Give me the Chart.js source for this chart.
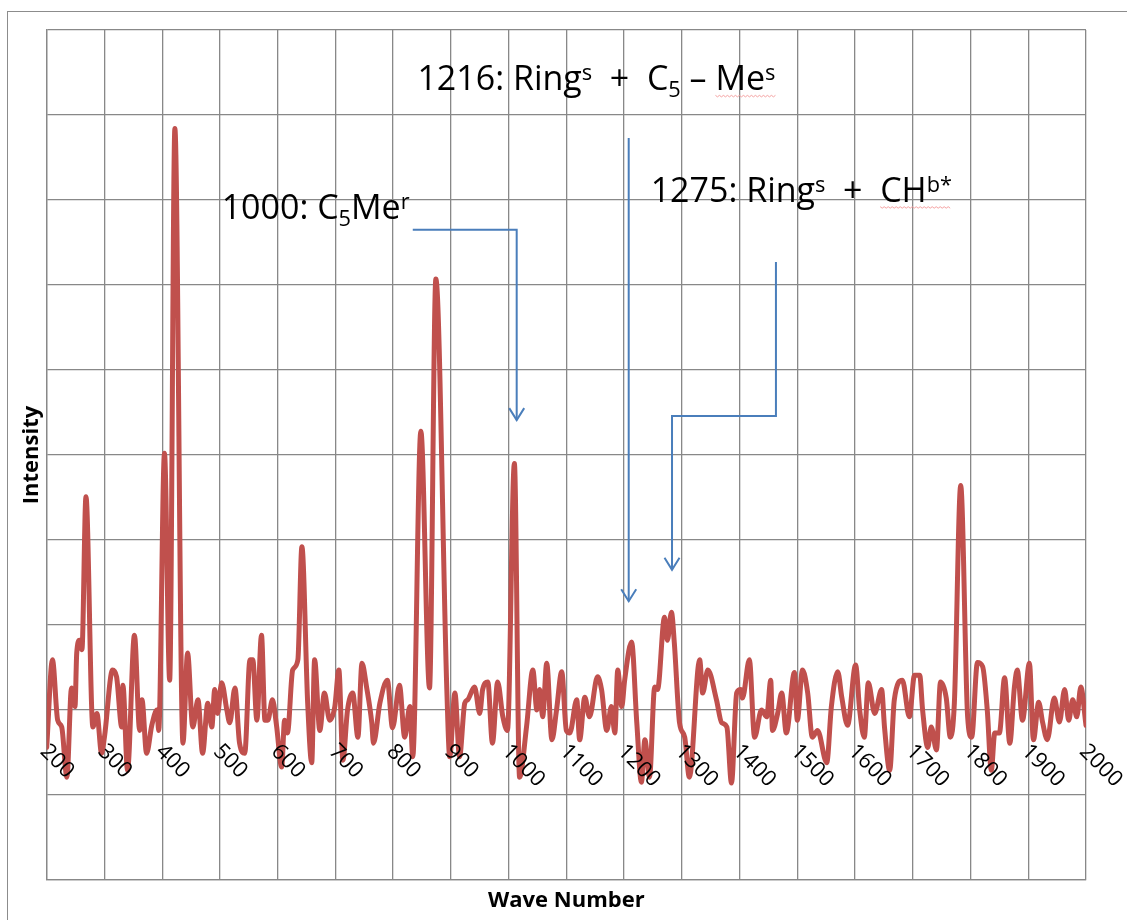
<!DOCTYPE html>
<html>
<head>
<meta charset="utf-8">
<script src="https://cdn.jsdelivr.net/npm/chart.js@4"></script>
<style>
  body { margin: 0; background: #fff; overflow: hidden; }
</style>
</head>
<body>
<canvas id="myChart" width="1127" height="920"></canvas>
<script>
// wave numbers, with the matching intensities
const waveNumbers = [200, 210, 219, 226, 235, 243, 249, 252, 257, 261, 268, 280, 287, 295, 300, 314, 321, 330, 332, 340,
  352, 361, 365, 373, 382, 391, 394, 404, 413, 422, 436, 444, 453, 462, 470, 479, 486, 491, 496, 503,
  512, 517, 526, 534, 543, 552, 557, 564, 572, 578, 583, 591, 598, 607, 612, 617, 626, 635, 642, 652,
  659, 664, 673, 681, 690, 699, 706, 713, 721, 730, 739, 746, 754, 763, 766, 777, 790, 799, 811, 820,
  829, 834, 848, 863, 874, 893, 898, 907, 915, 924, 929, 941, 950, 955, 964, 972, 981, 990, 998, 1010,
  1019, 1031, 1042, 1049, 1054, 1059, 1066, 1075, 1083, 1092, 1100, 1106, 1118, 1123, 1132, 1140, 1154, 1161, 1170, 1178,
  1184, 1189, 1196, 1201, 1213, 1222, 1230, 1236, 1244, 1253, 1258, 1270, 1275, 1282, 1287, 1296, 1305, 1313, 1331, 1336,
  1345, 1360, 1369, 1378, 1386, 1395, 1402, 1405, 1417, 1426, 1438, 1447, 1454, 1457, 1466, 1473, 1481, 1495, 1500, 1509,
  1518, 1526, 1535, 1551, 1559, 1570, 1577, 1587, 1601, 1608, 1616, 1623, 1634, 1646, 1651, 1660, 1668, 1682, 1694, 1703,
  1712, 1717, 1726, 1732, 1741, 1748, 1758, 1765, 1772, 1783, 1795, 1802, 1812, 1821, 1829, 1836, 1842, 1850, 1859, 1868,
  1876, 1881, 1890, 1902, 1909, 1918, 1925, 1933, 1945, 1954, 1963, 1970, 1977, 1984, 1991, 2000];
const intensities = [-0.44, 0.59, -0.12, -0.20, -0.79, 0.26, 0.04, 0.67, 0.82, 0.71, 2.51, -0.20, -0.04, -0.51, -0.32, 0.47, 0.39, -0.20, 0.29, -0.71,
  0.88, -0.24, 0.12, -0.51, -0.18, 0.00, -0.24, 3.02, 0.35, 6.84, -0.39, 0.67, -0.20, 0.12, -0.51, 0.08, -0.20, 0.24, -0.04, 0.32,
  0.00, -0.15, 0.26, -0.39, -0.51, 0.59, 0.59, -0.12, 0.88, -0.12, -0.12, 0.12, -0.18, -0.67, -0.12, -0.27, 0.47, 0.59, 1.92, 0.08,
  -0.62, 0.59, -0.24, 0.20, -0.12, 0.04, 0.47, -0.59, 0.00, 0.20, -0.32, 0.55, 0.27, -0.15, -0.39, 0.08, 0.35, -0.21, 0.29, -0.32,
  0.04, -0.55, 3.28, 0.26, 5.07, 0.24, -0.55, 0.20, -0.55, 0.08, 0.12, 0.27, -0.04, 0.24, 0.33, -0.39, 0.33, -0.08, -0.24, 2.90,
  -0.79, -0.20, 0.47, 0.00, 0.24, -0.08, 0.55, -0.35, 0.00, 0.45, -0.24, -0.27, 0.12, -0.35, 0.15, -0.08, 0.39, 0.24, -0.24, 0.04,
  -0.27, 0.47, 0.04, 0.35, 0.80, -0.15, -0.85, -0.35, -0.79, 0.27, 0.24, 1.09, 0.82, 1.15, 0.79, -0.15, -0.32, -0.79, 0.59, 0.20,
  0.47, 0.12, -0.15, -0.20, -0.86, 0.20, 0.24, 0.14, 0.59, -0.32, 0.00, -0.08, 0.35, -0.24, -0.04, 0.20, -0.27, 0.44, -0.12, 0.47,
  0.20, -0.32, -0.24, -0.62, 0.04, 0.45, 0.15, -0.18, 0.53, 0.00, -0.32, 0.32, -0.04, 0.24, -0.20, -0.71, 0.12, 0.35, -0.08, 0.41,
  0.41, 0.00, -0.44, -0.20, -0.47, 0.33, 0.14, -0.32, 0.08, 2.64, -0.08, -0.32, 0.56, 0.51, 0.00, -0.71, -0.27, -0.27, 0.38, -0.39,
  0.27, 0.47, -0.12, 0.55, -0.35, 0.09, -0.15, -0.35, 0.14, -0.14, 0.24, -0.12, 0.12, -0.08, 0.27, -0.18];

const tickLabels = ["200", "300", "400", "500", "600", "700", "800", "900", "1000", "1100",
  "1200", "1300", "1400", "1500", "1600", "1700", "1800", "1900", "2000"];

// peak labels: [text, style] pieces, anchored at (wave number, intensity) of the text's left baseline
const noteTexts = [
  { x: 842, y: 7.29, parts: [["1216: Ring"], ["s", "sup"], ["  +  C"], ["5", "sub"], [" – "], ["Me", "", 1], ["s", "sup", 1]] },
  { x: 503, y: 5.78, parts: [["1000: C"], ["5", "sub"], ["Me"], ["r", "sup"]] },
  { x: 1246, y: 5.98, parts: [["1275: Ring"], ["s", "sup"], ["  +  "], ["CH", "", 1], ["b*", "sup", 1]] }
];
// connector lines, last point gets the arrow head
const noteArrows = [
  [[834, 5.65], [1014, 5.65], [1014, 3.41]],
  [[1208, 6.73], [1208, 1.28]],
  [[1463, 5.27], [1463, 3.46], [1283, 3.46], [1283, 1.65]]
];

const gridColor = "#888888";
const fontName = "'Open Sans', sans-serif";

function drawParts(ctx, parts, x, y, size) {
  let cx = x;
  let wavyStart = null;
  parts.forEach(p => {
    const mode = p[1] || "";
    let s = size, dy = 0;
    if (mode === "sup") { s = size * 0.64; dy = -size * 0.3; }
    if (mode === "sub") { s = size * 0.64; dy = size * 0.2; }
    ctx.font = s + "px " + fontName;
    const w = ctx.measureText(p[0]).width;
    ctx.fillStyle = "#000";
    ctx.fillText(p[0], cx, y + dy);
    if (p[2] && wavyStart === null) wavyStart = cx;
    cx += w;
  });
  if (wavyStart !== null) {
    // spell-check squiggle
    ctx.strokeStyle = "#f4a0a0";
    ctx.lineWidth = 1;
    ctx.beginPath();
    for (let wx = wavyStart, k = 0; wx <= cx; wx += 2, k++) {
      const wy = y + 5 + (k % 2 ? 1.5 : 0);
      if (k === 0) ctx.moveTo(wx, wy); else ctx.lineTo(wx, wy);
    }
    ctx.stroke();
  }
}

const notesPlugin = {
  id: "notes",
  beforeDraw(chart) {
    const ctx = chart.ctx;
    ctx.save();
    ctx.strokeStyle = "#8c8c8c";
    ctx.lineWidth = 1;
    ctx.strokeRect(7.5, 11.5, 1400, 1400);
    ctx.restore();
  },
  afterDatasetsDraw(chart) {
    const ctx = chart.ctx;
    const xs = chart.scales.x;
    const ys = chart.scales.y;
    ctx.save();

    // tick labels, turned 45 degrees down to the right
    ctx.fillStyle = "#000";
    ctx.font = "22px " + fontName;
    ctx.textAlign = "left";
    ctx.textBaseline = "middle";
    const zeroY = ys.getPixelForValue(0);
    tickLabels.forEach(lbl => {
      const px = xs.getPixelForValue(Number(lbl));
      ctx.save();
      ctx.translate(px - 3, zeroY + 38);
      ctx.rotate(Math.PI / 4);
      ctx.fillText(lbl, 0, 0);
      ctx.restore();
    });

    // connectors
    ctx.strokeStyle = "#4a7ebb";
    ctx.lineWidth = 2;
    ctx.lineJoin = "miter";
    noteArrows.forEach(pts => {
      ctx.beginPath();
      pts.forEach((p, i) => {
        const px = xs.getPixelForValue(p[0]);
        const py = ys.getPixelForValue(p[1]);
        if (i === 0) ctx.moveTo(px, py); else ctx.lineTo(px, py);
      });
      ctx.stroke();
      const tip = pts[pts.length - 1];
      const tx = xs.getPixelForValue(tip[0]);
      const ty = ys.getPixelForValue(tip[1]);
      ctx.beginPath();
      ctx.moveTo(tx - 7.5, ty - 12);
      ctx.lineTo(tx, ty);
      ctx.lineTo(tx + 7.5, ty - 12);
      ctx.stroke();
    });

    ctx.textAlign = "left";
    ctx.textBaseline = "alphabetic";
    noteTexts.forEach(n => {
      drawParts(ctx, n.parts, xs.getPixelForValue(n.x), ys.getPixelForValue(n.y), 34);
    });
    ctx.restore();
  }
};

const ctx = document.getElementById("myChart").getContext("2d");
new Chart(ctx, {
  type: "line",
  data: {
    datasets: [{
      label: "Intensity",
      data: waveNumbers.map((w, i) => ({ x: w, y: intensities[i] })),
      borderColor: "#c0504d",
      borderWidth: 5,
      pointRadius: 0,
      fill: false,
      cubicInterpolationMode: "monotone",
      borderJoinStyle: "round",
      borderCapStyle: "round"
    }]
  },
  options: {
    responsive: false,
    animation: false,
    layout: { padding: { left: 18.8, right: 41, top: 30, bottom: 5.8 } },
    plugins: {
      legend: { display: false },
      tooltip: { enabled: false }
    },
    scales: {
      x: {
        type: "linear",
        min: 200,
        max: 2000,
        ticks: { display: false, stepSize: 100 },
        grid: { color: gridColor, lineWidth: 1.3, drawTicks: false },
        border: { color: gridColor, width: 1.3 },
        title: {
          display: true,
          text: "Wave Number",
          color: "#000",
          font: { family: fontName, size: 22, weight: "bold" },
          padding: { top: 7.8, bottom: 0 }
        }
      },
      y: {
        min: -2,
        max: 8,
        ticks: { display: false, stepSize: 1 },
        grid: { color: gridColor, lineWidth: 1.3, drawTicks: false },
        border: { color: gridColor, width: 1.3 },
        title: {
          display: true,
          text: "Intensity",
          color: "#000",
          font: { family: fontName, size: 22, weight: "bold" },
          padding: { top: 0, bottom: 1.5 }
        }
      }
    }
  },
  plugins: [notesPlugin]
});
</script>
</body>
</html>
